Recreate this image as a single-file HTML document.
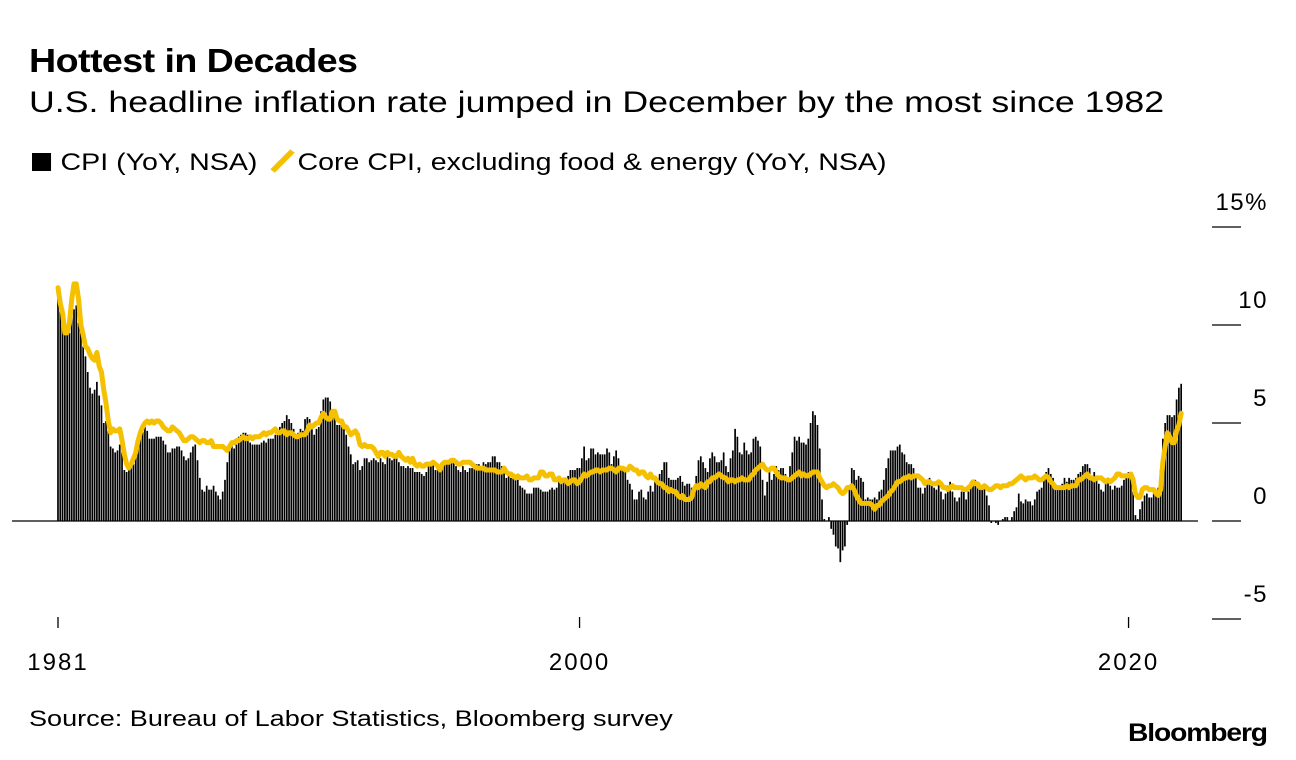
<!DOCTYPE html>
<html><head><meta charset="utf-8"><style>
html,body{margin:0;padding:0;background:#fff;}
body{width:1296px;height:760px;overflow:hidden;position:relative;font-family:"Liberation Sans",Arial,sans-serif;color:#000;}
.t{position:absolute;white-space:nowrap;transform-origin:0 0;}
</style></head><body>
<div class="t" style="left:29px;top:42px;font-size:33px;font-weight:bold;letter-spacing:-0.5px;transform:scaleX(1.14);">Hottest in Decades</div>
<div class="t" style="left:29px;top:86px;font-size:30px;transform:scaleX(1.19);">U.S. headline inflation rate jumped in December by the most since 1982</div>
<div class="t" style="left:32px;top:148px;font-size:24px;transform:scaleX(1.19);">
<span><span style="display:inline-block;width:16px;height:18px;background:#000;vertical-align:-1px;margin-right:8px;"></span>CPI (YoY, NSA)</span>
<span style="margin-left:8px;"><span style="display:inline-block;width:5px;height:26px;background:#f5c000;transform:rotate(40deg);vertical-align:-4px;margin:0 10px 0 4px;"></span>Core CPI, excluding food &amp; energy (YoY, NSA)</span>
</div>
<svg id="chart" width="1296" height="760" style="position:absolute;left:0;top:0;"></svg>
<div class="t" style="left:29px;top:706px;font-size:22px;transform:scaleX(1.23);">Source: Bureau of Labor Statistics, Bloomberg survey</div>
<div class="t" style="left:1128px;top:719px;font-size:25px;font-weight:bold;letter-spacing:-1px;transform:scaleX(1.13);">Bloomberg</div>
<script>
const cpi = [
11.8,11.4,10.5,10.0,9.8,9.6,10.8,10.8,11.0,10.1,9.6,8.9,
8.4,7.6,6.8,6.5,6.7,7.1,6.4,5.9,5.0,5.1,4.6,3.8,
3.7,3.5,3.6,3.9,3.5,2.6,2.5,2.6,2.9,2.9,3.3,3.8,
4.2,4.6,4.8,4.6,4.2,4.2,4.2,4.3,4.3,4.3,4.1,3.9,
3.5,3.5,3.7,3.7,3.8,3.8,3.6,3.3,3.1,3.2,3.5,3.8,
3.9,3.1,2.2,1.6,1.5,1.8,1.6,1.6,1.8,1.5,1.3,1.1,
1.5,2.1,3.0,3.8,3.9,3.7,3.9,4.3,4.4,4.5,4.5,4.4,
4.0,3.9,3.9,3.9,3.9,4.0,4.1,4.0,4.2,4.2,4.2,4.4,
4.7,4.8,5.0,5.1,5.4,5.2,5.0,4.7,4.3,4.5,4.7,4.6,
5.2,5.3,5.2,4.7,4.4,4.7,4.8,5.6,6.2,6.3,6.3,6.1,
5.7,5.3,4.9,4.9,5.0,4.7,4.4,3.8,3.4,2.9,3.0,3.1,
2.6,2.8,3.2,3.2,3.0,3.1,3.2,3.1,3.0,3.2,3.0,2.9,
3.3,3.2,3.1,3.2,3.2,3.0,2.8,2.8,2.7,2.8,2.7,2.7,
2.5,2.5,2.5,2.4,2.3,2.5,2.8,2.9,3.0,2.6,2.7,2.7,
2.8,2.9,2.9,3.1,3.2,3.0,2.8,2.6,2.5,2.8,2.6,2.5,
2.7,2.7,2.8,2.9,2.9,2.8,3.0,2.9,3.0,3.0,3.3,3.3,
3.0,3.0,2.8,2.5,2.2,2.3,2.2,2.2,2.2,2.1,1.8,1.7,
1.6,1.4,1.4,1.4,1.7,1.7,1.7,1.6,1.5,1.5,1.5,1.6,
1.7,1.6,1.7,2.3,2.1,2.0,2.1,2.3,2.6,2.6,2.6,2.7,
2.7,3.2,3.8,3.1,3.2,3.7,3.7,3.4,3.5,3.4,3.4,3.4,
3.7,3.5,2.9,3.3,3.6,3.2,2.7,2.7,2.6,2.1,1.9,1.6,
1.1,1.1,1.5,1.6,1.2,1.1,1.5,1.8,1.5,2.0,2.2,2.4,
2.6,3.0,3.0,2.2,2.1,2.1,2.1,2.2,2.3,2.0,1.8,1.9,
1.9,1.7,1.7,2.3,3.1,3.3,3.0,2.7,2.5,3.2,3.5,3.3,
3.0,3.0,3.1,3.5,2.8,2.5,3.2,3.6,4.7,4.3,3.5,3.4,
4.0,3.6,3.4,3.5,4.2,4.3,4.1,3.8,2.1,1.3,2.0,2.5,
2.1,2.4,2.8,2.6,2.7,2.7,2.4,2.0,2.8,3.5,4.3,4.1,
4.3,4.0,4.0,3.9,4.2,5.0,5.6,5.4,4.9,3.7,1.1,0.1,
0.0,0.2,-0.4,-0.7,-1.3,-1.4,-2.1,-1.5,-1.3,-0.2,1.8,2.7,
2.6,2.1,2.3,2.2,2.0,1.1,1.2,1.1,1.1,1.2,1.1,1.5,
1.6,2.1,2.7,3.2,3.6,3.6,3.6,3.8,3.9,3.5,3.4,3.0,
2.9,2.9,2.7,2.3,1.7,1.7,1.4,1.7,2.0,2.2,1.8,1.7,
1.6,2.0,1.5,1.1,1.4,1.8,2.0,1.5,1.2,1.0,1.2,1.5,
1.6,1.1,1.5,2.0,2.1,2.1,2.0,1.7,1.7,1.7,1.3,0.8,
-0.1,0.0,-0.1,-0.2,0.0,0.1,0.2,0.2,0.0,0.2,0.5,0.7,
1.4,1.0,0.9,1.1,1.0,1.0,0.8,1.1,1.5,1.6,1.7,2.1,
2.5,2.7,2.4,2.2,1.9,1.6,1.7,1.9,2.2,2.0,2.2,2.1,
2.1,2.2,2.4,2.5,2.8,2.9,2.9,2.7,2.3,2.5,2.2,1.9,
1.6,1.5,1.9,2.0,1.8,1.6,1.8,1.7,1.7,1.8,2.1,2.3,
2.5,2.3,1.5,0.3,0.1,0.6,1.0,1.3,1.4,1.2,1.2,1.4,
1.4,1.7,2.6,4.2,5.0,5.4,5.4,5.3,5.4,6.2,6.8,7.0];
const core = [
11.9,11.1,10.6,9.6,9.6,10.1,11.3,12.1,12.1,11.3,10.0,9.5,
8.9,8.8,8.5,8.3,8.2,8.6,7.9,7.6,6.7,6.0,5.1,4.5,
4.7,4.6,4.6,4.7,4.1,3.4,2.9,2.7,2.9,3.2,3.5,4.1,
4.5,4.8,5.0,5.1,5.0,5.1,5.0,5.1,5.1,5.0,4.8,4.7,
4.6,4.6,4.8,4.7,4.6,4.5,4.3,4.1,4.1,4.2,4.3,4.3,
4.2,4.1,4.0,4.1,4.1,4.0,4.0,4.1,3.8,3.8,3.8,3.8,
3.8,3.7,3.6,3.8,4.0,4.0,4.1,4.1,4.2,4.3,4.2,4.2,
4.3,4.2,4.3,4.3,4.3,4.4,4.5,4.4,4.5,4.5,4.6,4.7,
4.5,4.5,4.6,4.6,4.4,4.5,4.5,4.4,4.3,4.3,4.4,4.4,
4.4,4.6,4.9,4.8,4.9,5.0,5.0,5.3,5.5,5.3,5.2,5.2,
5.6,5.6,5.2,5.1,5.1,4.8,4.8,4.6,4.4,4.5,4.6,4.4,
3.9,3.8,3.9,3.8,3.8,3.8,3.7,3.5,3.3,3.5,3.5,3.3,
3.5,3.4,3.4,3.3,3.3,3.5,3.3,3.2,3.1,3.2,3.0,3.2,
2.9,2.8,2.9,2.8,2.8,2.9,2.9,2.9,3.0,2.9,2.8,2.6,
2.9,3.0,3.0,3.0,3.1,3.1,3.0,2.9,2.9,3.0,3.0,3.0,
3.0,2.9,2.8,2.7,2.7,2.7,2.7,2.6,2.6,2.6,2.6,2.6,
2.5,2.5,2.5,2.7,2.5,2.4,2.4,2.3,2.2,2.3,2.2,2.2,
2.2,2.3,2.1,2.1,2.2,2.2,2.2,2.5,2.5,2.3,2.3,2.4,
2.4,2.1,2.1,2.2,2.0,2.1,2.1,1.9,2.0,2.1,2.1,1.9,
2.0,2.2,2.4,2.3,2.4,2.5,2.5,2.6,2.6,2.5,2.6,2.6,
2.6,2.7,2.7,2.6,2.5,2.7,2.7,2.7,2.6,2.6,2.8,2.7,
2.6,2.6,2.4,2.5,2.5,2.3,2.2,2.4,2.2,2.2,2.0,1.9,
1.9,1.7,1.7,1.5,1.6,1.5,1.5,1.3,1.2,1.3,1.1,1.1,
1.1,1.2,1.6,1.8,1.7,1.9,1.8,1.7,2.0,2.0,2.2,2.2,
2.3,2.4,2.3,2.2,2.2,2.0,2.1,2.1,2.0,2.1,2.1,2.2,
2.1,2.1,2.1,2.3,2.4,2.6,2.7,2.8,2.9,2.7,2.6,2.6,
2.7,2.7,2.5,2.3,2.2,2.2,2.2,2.1,2.1,2.2,2.3,2.4,
2.5,2.3,2.4,2.3,2.3,2.4,2.5,2.5,2.5,2.2,2.0,1.8,
1.7,1.8,1.8,1.9,1.8,1.7,1.5,1.4,1.5,1.7,1.7,1.8,
1.6,1.3,1.1,0.9,0.9,0.9,0.9,0.9,0.8,0.6,0.8,0.8,
1.0,1.1,1.2,1.3,1.5,1.6,1.8,2.0,2.0,2.1,2.2,2.2,
2.3,2.2,2.3,2.3,2.3,2.2,2.1,1.9,2.0,2.0,1.9,1.9,
1.9,2.0,1.9,1.7,1.7,1.6,1.7,1.8,1.7,1.7,1.7,1.7,
1.6,1.6,1.7,1.8,2.0,1.9,1.9,1.7,1.7,1.8,1.7,1.6,
1.6,1.7,1.8,1.8,1.7,1.8,1.8,1.8,1.9,1.9,2.0,2.1,
2.2,2.3,2.2,2.1,2.2,2.2,2.2,2.3,2.2,2.1,2.1,2.2,
2.3,2.2,2.0,1.9,1.7,1.7,1.7,1.7,1.7,1.8,1.7,1.8,
1.8,1.8,2.1,2.1,2.2,2.3,2.4,2.2,2.2,2.1,2.2,2.2,
2.2,2.1,2.0,2.1,2.0,2.1,2.2,2.4,2.4,2.3,2.3,2.3,
2.3,2.4,2.1,1.4,1.2,1.2,1.6,1.7,1.7,1.6,1.6,1.6,
1.4,1.3,1.6,3.0,3.8,4.5,4.3,4.0,4.0,4.6,4.9,5.5];
const startYear = 1981;
const yTicks = [15, 10, 5, 0, -5];
const yTickLabels = ["15%", "10", "5", "0", "-5"];
const xTicks = [1981, 2000, 2020];

const NS = "http://www.w3.org/2000/svg";
const svg = document.getElementById("chart");
function xScale(t){ return 58 + (t - startYear) * 27.45; }
function yScale(v){ return 521 - v * 19.6; }
function mk(tag, attrs){ const e = document.createElementNS(NS, tag); for (const k in attrs) e.setAttribute(k, attrs[k]); svg.appendChild(e); return e; }

yTicks.forEach((v, i) => {
  const y = yScale(v);
  const l = mk("line", {x1:1212, x2:1241, y1:y, y2:y, stroke:"#000", "stroke-width":1.3});
  
  
  const t = mk("text", {x:1268, y:y - 17, "text-anchor":"end", "font-size":24, "letter-spacing":"1.5", "font-family":"Liberation Sans, Arial, sans-serif"});
  t.textContent = yTickLabels[i];
  
  
});

const bw = 1.7;
cpi.forEach((v, i) => {
  const x = xScale(startYear + i / 12);
  const y0 = yScale(0), y1 = yScale(v);
  const r = mk("rect", {x: x - bw/2, y: Math.min(y0, y1), width: bw, height: Math.max(0.5, Math.abs(y1 - y0)), fill:"#000"});
  
  
});

const zl = mk("line", {x1:12, x2:1198, y1:yScale(0), y2:yScale(0), stroke:"#000", "stroke-width":1.3});



const pts = core.map((v, i) => xScale(startYear + i / 12).toFixed(2) + "," + yScale(v).toFixed(2)).join(" ");
const pl = mk("polyline", {points: pts, fill:"none", stroke:"#f5c000", "stroke-width":5, "stroke-linejoin":"round", "stroke-linecap":"round"});



xTicks.forEach(yr => {
  const x = xScale(yr);
  const l = mk("line", {x1:x, x2:x, y1:617, y2:628, stroke:"#000", "stroke-width":1.3});
  
  
  const t = mk("text", {x:x, y:670, "text-anchor":"middle", "font-size":24, "letter-spacing":"2", "font-family":"Liberation Sans, Arial, sans-serif"});
  t.textContent = yr;
  
  
});
</script>
</body></html>
